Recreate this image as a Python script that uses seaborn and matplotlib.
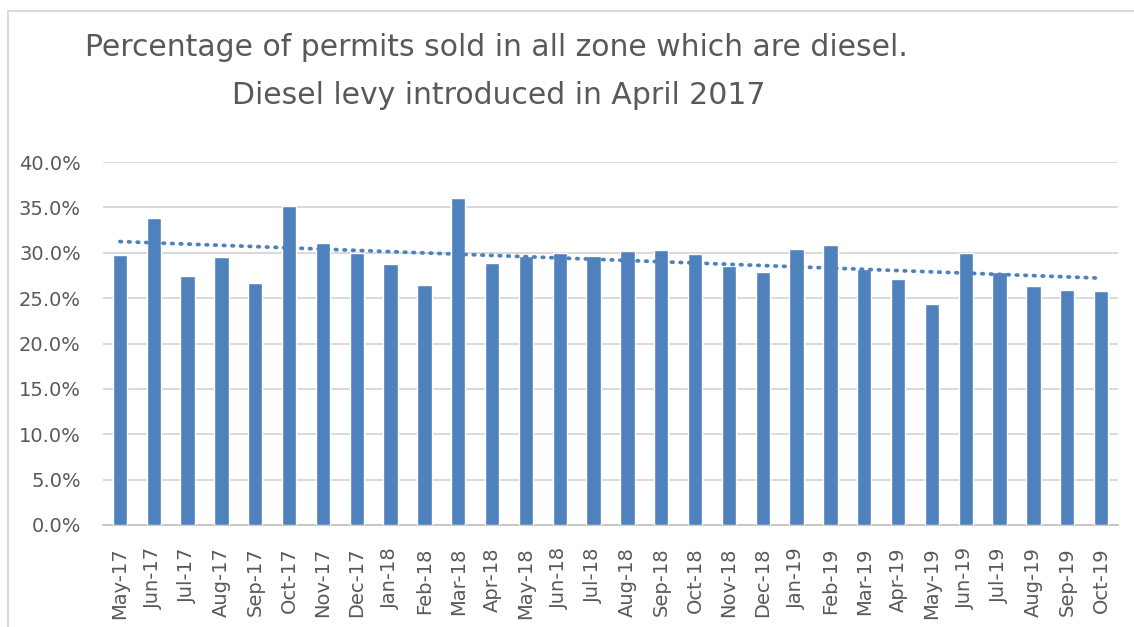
import numpy as np
import pandas as pd
import matplotlib
matplotlib.use('Agg')
import matplotlib.pyplot as plt
import seaborn as sns
from matplotlib.patches import Rectangle
from matplotlib.ticker import PercentFormatter, FixedLocator

months = ['May-17', 'Jun-17', 'Jul-17', 'Aug-17', 'Sep-17', 'Oct-17', 'Nov-17', 'Dec-17',
          'Jan-18', 'Feb-18', 'Mar-18', 'Apr-18', 'May-18', 'Jun-18', 'Jul-18', 'Aug-18',
          'Sep-18', 'Oct-18', 'Nov-18', 'Dec-18', 'Jan-19', 'Feb-19', 'Mar-19', 'Apr-19',
          'May-19', 'Jun-19', 'Jul-19', 'Aug-19', 'Sep-19', 'Oct-19']
diesel_pct = [29.8, 33.8, 27.4, 29.5, 26.7, 35.1, 31.1, 30.0, 28.8, 26.5,
              36.0, 28.9, 29.6, 30.0, 29.6, 30.2, 30.3, 29.9, 28.5, 27.9,
              30.4, 30.9, 28.2, 27.1, 24.4, 30.0, 27.9, 26.3, 25.9, 25.8]

BLUE = '#4f81bd'
GREY_TXT = '#595959'

df = pd.DataFrame({'month': months, 'pct': diesel_pct})
df['pos'] = np.arange(len(df))

sns.set_style('white')
plt.rcParams['font.family'] = ['DejaVu Sans']

fig = plt.figure(figsize=(11.34, 6.27), dpi=100)
ax = fig.add_axes([103 / 1134, 1 - 525 / 627, (1118 - 103) / 1134, (525 - 162) / 627])

sns.barplot(data=df, x='month', y='pct', color=BLUE, width=0.42, saturation=1, ax=ax, zorder=3)
# linear trendline, like the Excel one
sns.regplot(data=df, x='pos', y='pct', scatter=False, ci=None, truncate=True, ax=ax,
            line_kws={'color': BLUE, 'linestyle': (0, (0.4, 1.9)), 'linewidth': 2.7,
                      'dash_capstyle': 'round', 'zorder': 4})

ax.set_ylim(0, 40)
ax.set_xlim(-0.5, len(months) - 0.5)
ax.yaxis.set_major_locator(FixedLocator(np.arange(0, 40.1, 5)))
ax.yaxis.set_major_formatter(PercentFormatter(decimals=1))
ax.grid(axis='y', color='#d9d9d9', linewidth=1.4, zorder=0)
ax.set_axisbelow(True)
ax.set_xlabel('')
ax.set_ylabel('')
for s in ['top', 'right', 'left']:
    ax.spines[s].set_visible(False)
ax.spines['bottom'].set_color('#bfbfbf')
ax.spines['bottom'].set_linewidth(1.2)

ax.tick_params(axis='y', length=0, labelsize=14, labelcolor=GREY_TXT, pad=16)
ax.set_xticks(np.arange(len(months)))
ax.set_xticklabels(months, rotation=90)
ax.tick_params(axis='x', which='major', length=0, labelsize=14, labelcolor=GREY_TXT, pad=16)
ax.set_xticks(np.arange(-0.5, len(months)), minor=True)
ax.tick_params(axis='x', which='minor', length=5, color='#bfbfbf', width=1.2)

fig.text(85 / 1134, 1 - 47 / 627, 'Percentage of permits sold in all zone which are diesel.',
         fontsize=21.5, color=GREY_TXT, va='center', ha='left')
fig.text(232 / 1134, 1 - 95 / 627, 'Diesel levy introduced in April 2017',
         fontsize=21.5, color=GREY_TXT, va='center', ha='left')

fig.patches.append(Rectangle((8 / 1134, -0.1), 1.2, 1.1 - 11 / 627,
                             transform=fig.transFigure, fill=False,
                             edgecolor='#d9d9d9', linewidth=1.4))

fig.savefig('out.png', dpi=100)
